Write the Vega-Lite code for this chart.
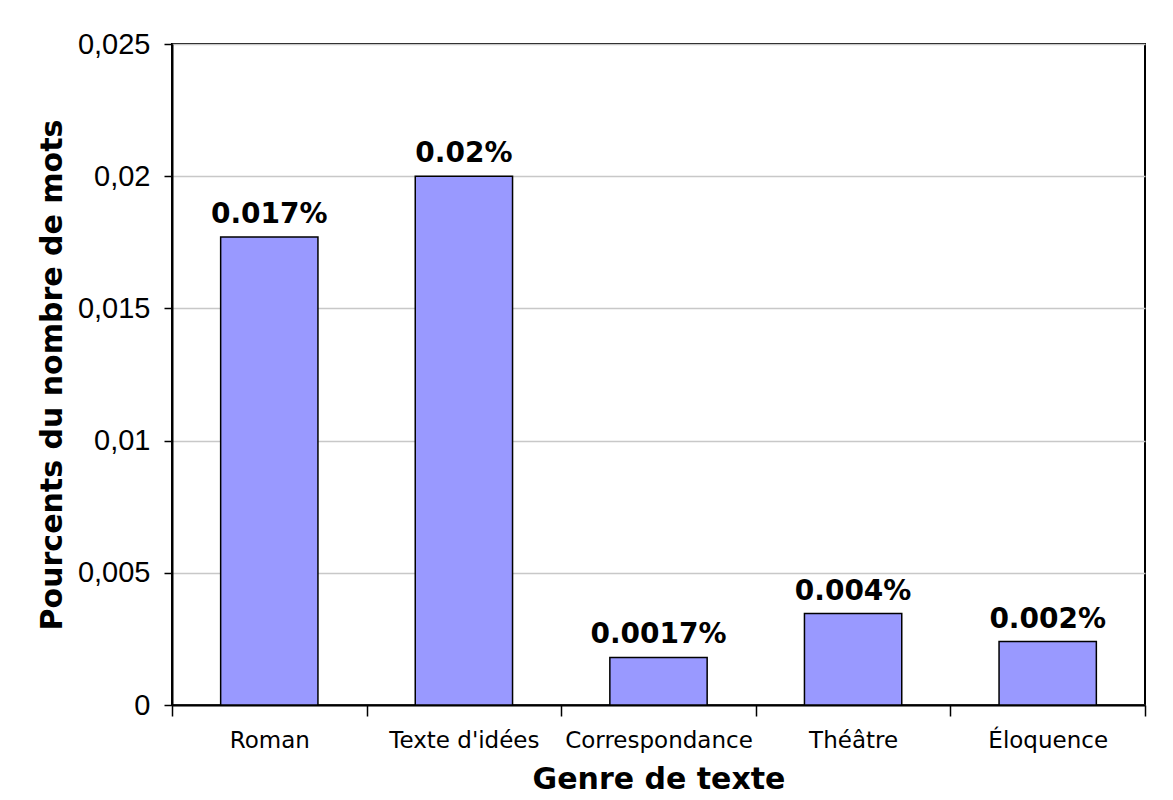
{
  "$schema": "https://vega.github.io/schema/vega-lite/v6.json",
  "width": 973,
  "height": 661,
  "autosize": {"type": "none"},
  "padding": {"left": 172, "top": 44, "right": 28, "bottom": 95},
  "background": "white",
  "data": {
    "values": [
      {"genre": "Roman", "pct": 0.0177, "label": "0.017%"},
      {"genre": "Texte d'idées", "pct": 0.0200, "label": "0.02%"},
      {"genre": "Correspondance", "pct": 0.0018, "label": "0.0017%"},
      {"genre": "Théâtre", "pct": 0.00346, "label": "0.004%"},
      {"genre": "Éloquence", "pct": 0.0024, "label": "0.002%"}
    ]
  },
  "config": {
    "view": {"stroke": "#000000", "strokeWidth": 2},
    "axis": {"domainColor": "#000000", "tickColor": "#000000", "labelColor": "#000000", "titleColor": "#000000"}
  },
  "encoding": {
    "x": {
      "field": "genre", "type": "nominal", "sort": null,
      "scale": {"paddingInner": 0, "paddingOuter": 0},
      "axis": {
        "title": "Genre de texte",
        "labelAngle": 0, "labelLimit": 0,
        "labelFont": "DejaVu Sans", "labelFontSize": 23,
        "titleFont": "DejaVu Sans", "titleFontSize": 30, "titleFontWeight": "bold",
        "tickBand": "extent", "tickSize": 11, "tickWidth": 1.5, "domainWidth": 2,
        "labelPadding": 13, "titlePadding": 12, "grid": false
      }
    },
    "y": {
      "field": "pct", "type": "quantitative",
      "scale": {"domain": [0, 0.025], "nice": false},
      "axis": {
        "title": "Pourcents du nombre de mots",
        "values": [0, 0.005, 0.01, 0.015, 0.02, 0.025],
        "labelExpr": "replace(format(datum.value, '~r'), '.', ',')",
        "labelFont": "Liberation Sans", "labelFontSize": 29,
        "titleFont": "DejaVu Sans", "titleFontSize": 30, "titleFontWeight": "bold",
        "tickSize": 8, "tickWidth": 1.5, "domainWidth": 2,
        "labelPadding": 14, "titlePadding": 10,
        "grid": true, "gridColor": "#c8c8c8", "gridWidth": 1.5
      }
    }
  },
  "layer": [
    {
      "mark": {"type": "bar", "width": {"band": 0.5}, "fill": "#9999ff", "stroke": "#000000", "strokeWidth": 1.5}
    },
    {
      "mark": {"type": "text", "font": "DejaVu Sans", "fontWeight": "bold", "fontSize": 28, "baseline": "alphabetic", "dy": -14, "color": "#000000"},
      "encoding": {"text": {"field": "label"}}
    }
  ]
}
